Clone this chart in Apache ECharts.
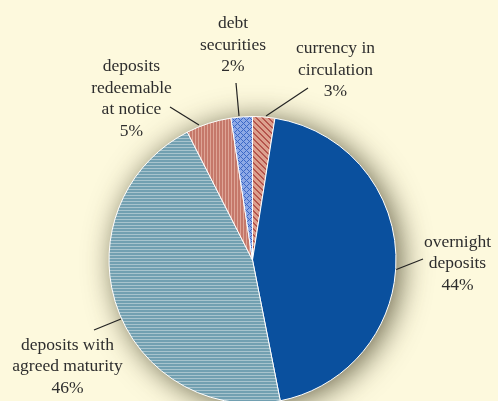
<!DOCTYPE html>
<html>
<head>
<meta charset="utf-8">
<script src="https://cdn.jsdelivr.net/npm/echarts@6/dist/echarts.min.js"></script>
<style>
  html, body { margin: 0; padding: 0; background: #fdf9dd; }
  #chart { width: 498px; height: 401px; }
</style>
</head>
<body>
<div id="chart"></div>
<script>
(function() {
  // data, clockwise from 12 o'clock
  var names = ['currency in\ncirculation', 'overnight\ndeposits', 'deposits with\nagreed maturity',
               'deposits\nredeemable\nat notice', 'debt\nsecurities'];
  var shares = [2.5, 44.4, 45.6, 5.1, 2.4];

  // label anchor (block centre) and leader line per slice
  var labelPos = [
    { x: 335.5, y: 70, line: [[308, 88], [266, 116]] },
    { x: 457.5, y: 263.5, line: [[423, 259], [395, 270]] },
    { x: 67.5, y: 366.5, line: [[94, 330], [121, 319]] },
    { x: 131.5, y: 99, line: [[170, 107], [199, 125]] },
    { x: 233, y: 45, line: [[236, 83], [239, 116]] }
  ];

  // pixel patterns
  function makePattern(w, h, fn) {
    var c = document.createElement('canvas');
    c.width = w; c.height = h;
    var ctx = c.getContext('2d');
    for (var y = 0; y < h; y++) {
      for (var x = 0; x < w; x++) {
        ctx.fillStyle = fn(x, y);
        ctx.fillRect(x, y, 1, 1);
      }
    }
    return { image: c, repeat: 'repeat' };
  }
  var pCurrency = makePattern(6, 6, function(x, y) {
    return ((x - y + 12) % 6) < 2 ? '#b5544c' : '#dca08e';
  });
  var pAgreed = makePattern(1, 3, function(x, y) {
    return y === 0 ? '#a8c4cd' : '#72a0b1';
  });
  var pRedeem = makePattern(3, 1, function(x) {
    return x === 0 ? '#dea596' : '#c5786a';
  });
  var pDebt = makePattern(6, 6, function(x, y) {
    return ((x + y) % 6 === 0 || (x - y + 12) % 6 === 0) ? '#3c68c6' : '#8ea9e6';
  });
  var fills = [pCurrency, '#0a509e', pAgreed, pRedeem, pDebt];

  var total = 0;
  for (var i = 0; i < shares.length; i++) total += shares[i];

  var chart = echarts.init(document.getElementById('chart'), null, { renderer: 'canvas' });
  chart.setOption({
    animation: false,
    backgroundColor: '#fdf9dd',
    series: [
      {
        // soft shadow underneath the whole pie
        type: 'pie',
        silent: true,
        z: 1,
        center: [252.5, 260],
        radius: 143,
        label: { show: false },
        labelLine: { show: false },
        itemStyle: {
          color: '#7a7a6a',
          shadowBlur: 30,
          shadowColor: 'rgba(50,45,20,0.75)',
          shadowOffsetX: 5,
          shadowOffsetY: 3
        },
        data: [{ value: total, name: 'shadow' }]
      },
      {
        type: 'pie',
        z: 2,
        center: [252.5, 260],
        radius: 143.5,
        startAngle: 90,
        clockwise: true,
        avoidLabelOverlap: false,
        itemStyle: { borderColor: '#ffffff', borderWidth: 1 },
        label: {
          show: true,
          position: 'outside',
          fontFamily: '"Liberation Serif", "DejaVu Serif", serif',
          fontSize: 17.5,
          lineHeight: 21.5,
          color: '#2e2e2e',
          align: 'center',
          formatter: function(p) {
            return p.name + '\n' + Math.round(p.value) + '%';
          }
        },
        labelLine: {
          show: true,
          length: 10,
          length2: 10,
          lineStyle: { color: '#222222', width: 1.2 }
        },
        labelLayout: function(params) {
          var L = labelPos[params.dataIndex];
          return {
            x: L.x,
            y: L.y,
            align: 'center',
            verticalAlign: 'middle',
            labelLinePoints: L.line
          };
        },
        data: names.map(function(n, i) {
          return { name: n, value: shares[i], itemStyle: { color: fills[i] } };
        })
      }
    ]
  });
  window.addEventListener('resize', function() { chart.resize(); });
})();
</script>
</body>
</html>
